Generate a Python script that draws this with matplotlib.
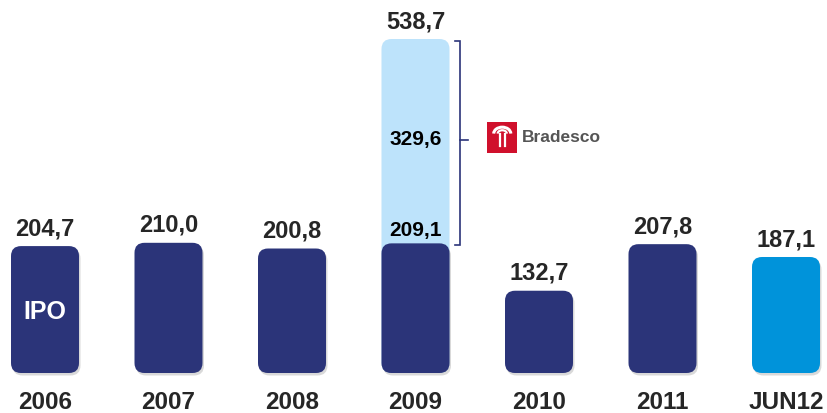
import matplotlib
matplotlib.use("Agg")
import matplotlib.pyplot as plt
from matplotlib.patches import FancyBboxPatch, Rectangle, Arc
import matplotlib.transforms as mtransforms

# ---- data ----
categories = ["2006", "2007", "2008", "2009", "2010", "2011", "JUN12"]
values = [204.7, 210.0, 200.8, 209.1, 132.7, 207.8, 187.1]
value_labels = ["204,7", "210,0", "200,8", "209,1", "132,7", "207,8", "187,1"]
stack_2009_total = 538.7
stack_2009_total_label = "538,7"
stack_2009_added_label = "329,6"
stack_index = 3
highlight_index = 6

NAVY = "#2B3479"
LIGHT = "#BDE3FB"
BRIGHT = "#0093DA"
TEXT = "#262626"

W, H = 828, 414
fig = plt.figure(figsize=(W / 100, H / 100), dpi=100)
ax = fig.add_axes([0, 0, 1, 1])
px_per_x = 123.5
px_per_y = 0.62
x0_px = 45
base_px = 40  # from bottom
ax.set_xlim(-x0_px / px_per_x, (W - x0_px) / px_per_x)
ax.set_ylim(-base_px / px_per_y, (H - base_px) / px_per_y)
ax.axis("off")

bar_w = 68 / px_per_x
rs = 10 / px_per_x
aspect = px_per_x / px_per_y

FONT = "Liberation Sans"


def rbar(x, h, color, z=2, shadow=True):
    if shadow:
        sh = FancyBboxPatch((x - bar_w / 2, 0), bar_w, h,
                            boxstyle=f"round,pad=0,rounding_size={rs}",
                            mutation_aspect=aspect, fc="#000000", ec="none",
                            alpha=0.15, zorder=z - 0.5)
        sh.set_transform(ax.transData + mtransforms.ScaledTranslation(1.5 / 100, -2.5 / 100, fig.dpi_scale_trans))
        ax.add_patch(sh)
    p = FancyBboxPatch((x - bar_w / 2, 0), bar_w, h,
                       boxstyle=f"round,pad=0,rounding_size={rs}",
                       mutation_aspect=aspect, fc=color, ec="none", zorder=z)
    ax.add_patch(p)


# stacked light bar for 2009
rbar(stack_index, stack_2009_total, LIGHT, z=1, shadow=False)

for i, (c, v, lab) in enumerate(zip(categories, values, value_labels)):
    color = BRIGHT if i == highlight_index else NAVY
    rbar(i, v, color)
    ax.text(i, -46.5, c, ha="center", va="center", fontsize=17.5, fontweight="bold",
            color=TEXT, family=FONT)
    if i == stack_index:
        ax.annotate(lab, (i, v), xytext=(0, 3), textcoords="offset points",
                    ha="center", va="bottom", fontsize=15, fontweight="bold",
                    color="black", family=FONT, zorder=5)
    else:
        ax.annotate(lab, (i, v), xytext=(0, 5), textcoords="offset points",
                    ha="center", va="bottom", fontsize=17, fontweight="bold",
                    color=TEXT, family=FONT, zorder=5)

# 2009 total and added labels
ax.annotate(stack_2009_total_label, (stack_index, stack_2009_total), xytext=(0, 5),
            textcoords="offset points", ha="center", va="bottom", fontsize=17,
            fontweight="bold", color=TEXT, family=FONT)
mid = (stack_2009_total + values[stack_index]) / 2 + 5
ax.text(stack_index, mid, stack_2009_added_label, ha="center", va="center",
        fontsize=15, fontweight="bold", color="black", family=FONT, zorder=5)

# IPO label
ax.text(0, 100, "IPO", ha="center", va="center", fontsize=18, fontweight="bold",
        color="white", family=FONT, zorder=5)

# bracket
bx = stack_index + (460.7 - 416) / px_per_x
tick_l = 5.5 / px_per_x
tick_r = 8 / px_per_x
ytop = stack_2009_total - 3
ybot = values[stack_index] - 3
ax.plot([bx - tick_l, bx, bx, bx - tick_l], [ytop, ytop, ybot, ybot],
        color=NAVY, lw=1.2, solid_joinstyle="miter", zorder=3)
ymid = (ytop + ybot) / 2 + 5
ax.plot([bx, bx + tick_r], [ymid, ymid], color=NAVY, lw=1.2, zorder=3)

# Bradesco logo
lax = fig.add_axes([487 / W, (H - 153.5) / H, 30.5 / W, 30.5 / H])
lax.set_xlim(0, 1)
lax.set_ylim(0, 1)
lax.axis("off")
lax.add_patch(Rectangle((0, 0), 1, 1, fc="#D0102C", ec="none"))
lax.add_patch(Arc((0.5, 0.62), 0.56, 0.42, theta1=180, theta2=360, angle=180,
                  ec="white", lw=2.2))
lax.add_patch(Arc((0.5, 0.62), 0.30, 0.22, theta1=180, theta2=360, angle=180,
                  ec="white", lw=1.6))
lax.plot([0.42, 0.42], [0.62, 0.22], color="white", lw=1.6)
lax.plot([0.58, 0.58], [0.62, 0.22], color="white", lw=1.6)
fig.text(521.5 / W, (H - 138) / H, "Bradesco", ha="left", va="center",
         fontsize=12.5, fontweight="bold", color="#555555", family=FONT)

fig.savefig("out.png", dpi=100)
